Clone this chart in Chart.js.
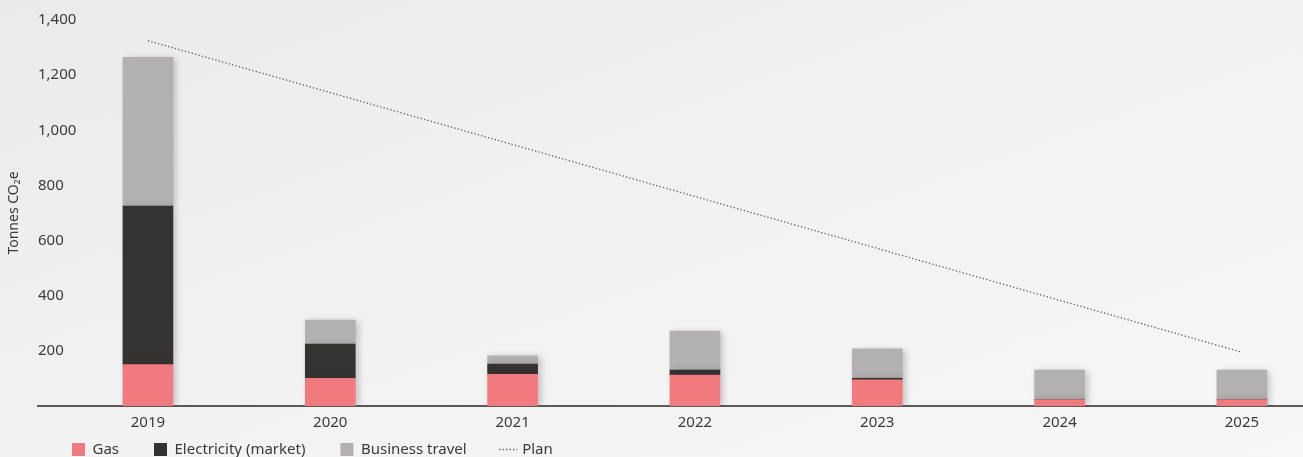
<!DOCTYPE html>
<html>
<head>
<meta charset="utf-8">
<script src="https://cdn.jsdelivr.net/npm/chart.js@4.4.1/dist/chart.umd.min.js"></script>
<style>
  html, body { margin: 0; padding: 0; }
  body {
    width: 1303px; height: 457px; overflow: hidden;
    background: linear-gradient(160deg, #eaeaeb 0%, #f1f1f1 45%, #f7f7f7 100%);
  }
  #wrap { position: relative; width: 1303px; height: 457px; }
</style>
</head>
<body>
<div id="wrap"><canvas id="co2Chart"></canvas></div>
<script>
const years = [2019, 2020, 2021, 2022, 2023, 2024, 2025];
const gas = [150, 100, 115, 112, 95, 22, 22];
const electricity = [575, 125, 37, 18, 5, 0, 0];
const businessTravel = [540, 87, 30, 142, 107, 108, 108];
const planYears = [2019, 2025];
const plan = [1325, 195];
const yTicks = [200, 400, 600, 800, 1000, 1200, 1400];

const textColor = '#3a3a3a';
const fontFamily = '"Noto Sans", "Open Sans", sans-serif';

function points(xs, ys) {
  return xs.map((x, i) => ({ x: x, y: ys[i] }));
}

// soft drop shadow behind the bars
const barShadow = {
  id: 'barShadow',
  beforeDatasetDraw(chart, args) {
    if (args.meta.type !== 'bar') return;
    const ctx = chart.ctx;
    ctx.save();
    ctx.shadowColor = 'rgba(0,0,0,0.22)';
    ctx.shadowBlur = 7;
    ctx.shadowOffsetX = 3;
    ctx.shadowOffsetY = 1;
  },
  afterDatasetDraw(chart, args) {
    if (args.meta.type !== 'bar') return;
    chart.ctx.restore();
  }
};

// push the legend to the bottom-left corner
const legendPlace = {
  id: 'legendPlace',
  afterLayout(chart) {
    const lg = chart.legend;
    if (!lg) return;
    lg.left = 37;
    lg.top = 407;
  }
};

Chart.defaults.font.family = fontFamily;

const ctx = document.getElementById('co2Chart').getContext('2d');
new Chart(ctx, {
  type: 'bar',
  data: {
    datasets: [
      { label: 'Gas', data: points(years, gas), backgroundColor: '#f07a7d', stack: 'a', barThickness: 50, borderWidth: 0 },
      { label: 'Electricity (market)', data: points(years, electricity), backgroundColor: '#343331', stack: 'a', barThickness: 50, borderWidth: 0 },
      { label: 'Business travel', data: points(years, businessTravel), backgroundColor: '#b2b0b1', stack: 'a', barThickness: 50, borderWidth: 0 },
      {
        type: 'line', label: 'Plan', data: points(planYears, plan), stack: 'plan',
        borderColor: '#5c5c5c', borderWidth: 1.3, borderDash: [1.3, 2.2],
        pointRadius: 0, fill: false
      }
    ]
  },
  options: {
    responsive: true,
    maintainAspectRatio: false,
    animation: false,
    layout: { padding: { top: 20, right: 0, bottom: 0, left: 0 } },
    plugins: {
      tooltip: { enabled: false },
      legend: {
        position: 'bottom',
        align: 'start',
        maxHeight: 27,
        labels: {
          usePointStyle: true,
          boxWidth: 13,
          boxHeight: 13,
          padding: 35,
          color: textColor,
          font: { size: 15 },
          generateLabels(chart) {
            return chart.data.datasets.map((ds, i) => {
              const isLine = ds.type === 'line';
              return {
                text: ds.label,
                fillStyle: isLine ? 'rgba(0,0,0,0)' : ds.backgroundColor,
                strokeStyle: isLine ? ds.borderColor : ds.backgroundColor,
                lineWidth: isLine ? 1.3 : 0,
                lineDash: isLine ? [1.3, 2.2] : [],
                pointStyle: isLine ? 'line' : 'rect',
                fontColor: textColor,
                hidden: false,
                datasetIndex: i
              };
            });
          }
        }
      }
    },
    scales: {
      x: {
        type: 'linear',
        min: 2018.397,
        max: 2025.335,
        offset: false,
        stacked: true,
        grid: { display: false, drawTicks: false },
        border: { color: '#5a5a5a', width: 2 },
        afterBuildTicks: s => { s.ticks = years.map(v => ({ value: v })); },
        ticks: {
          padding: 8,
          color: textColor,
          font: { size: 15 },
          autoSkip: false,
          maxRotation: 0,
          callback: v => String(v)
        },
        afterFit: s => { s.height = 24; }
      },
      y: {
        stacked: true,
        min: 0,
        max: 1400,
        grid: { display: false, drawTicks: false },
        border: { display: false },
        afterBuildTicks: s => { s.ticks = yTicks.map(v => ({ value: v })); },
        ticks: {
          mirror: true,
          padding: 0,
          color: textColor,
          font: { size: 15 },
          callback: v => v.toLocaleString('en-US')
        },
        title: {
          display: true,
          text: 'Tonnes CO₂e',
          color: textColor,
          font: { size: 14 },
          padding: { top: 6, bottom: 0 }
        },
        afterFit: s => { s.width = 38; }
      }
    }
  },
  plugins: [barShadow, legendPlace]
});
</script>
</body>
</html>
